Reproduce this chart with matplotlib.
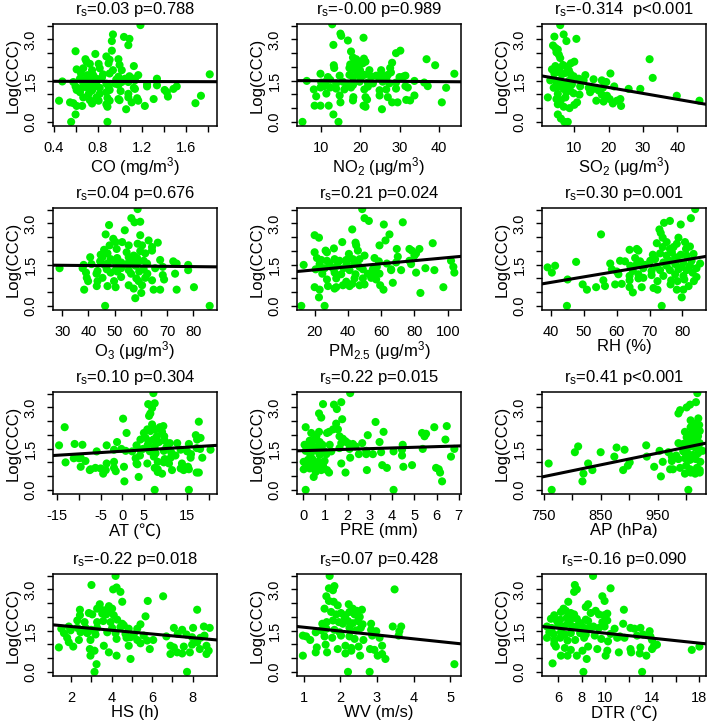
import matplotlib
matplotlib.use('Agg')
import matplotlib.pyplot as plt
import numpy as np

plt.rcParams['font.family'] = ['Liberation Sans', 'DejaVu Sans']
plt.rcParams['mathtext.fontset'] = 'custom'
plt.rcParams['mathtext.rm'] = 'Liberation Sans'
plt.rcParams['mathtext.it'] = 'Liberation Sans:italic'
plt.rcParams['mathtext.bf'] = 'Liberation Sans:bold'
plt.rcParams['mathtext.default'] = 'regular'

# ---------------- data ----------------
co_x = [1.19,0.94,1.04,1.09,0.93,1.08,0.60,0.93,0.78,0.88,0.99,0.69,0.70,0.91,0.73,0.81,0.90,1.00,1.13,0.61,0.67,0.75,0.82,0.94,1.02,
        0.65,0.71,0.76,0.85,0.91,0.99,1.09,1.17,1.82,
        0.64,0.69,0.73,0.79,0.84,0.97,1.05,1.13,1.34,
        0.48,0.58,0.67,0.73,0.79,0.88,0.96,1.02,1.08,1.14,
        0.60,0.66,0.71,0.78,0.82,0.90,0.99,1.13,1.25,1.34,
        0.61,0.75,0.91,1.01,1.14,1.41,1.52,1.49,
        0.64,0.72,0.82,0.88,1.08,1.25,1.43,
        0.67,0.79,0.89,0.99,1.08,1.16,1.74,1.44,
        0.45,0.55,0.73,0.81,0.91,1.00,1.11,1.31,1.69,
        0.58,0.66,0.75,0.88,1.17,
        0.89,1.06,1.23,0.61,
        0.60,0.56,0.89]
co_y = [3.52,3.18,3.09,3.02,2.94,2.79,2.57,2.59,2.47,2.38,2.28,2.28,2.19,2.26,2.11,2.11,2.13,2.07,2.03,1.91,1.95,1.88,1.95,1.88,1.88,
        1.76,1.70,1.70,1.73,1.76,1.64,1.66,1.70,1.73,
        1.57,1.54,1.61,1.57,1.61,1.54,1.57,1.57,1.57,
        1.47,1.45,1.41,1.39,1.45,1.39,1.39,1.45,1.45,1.51,
        1.29,1.24,1.24,1.29,1.24,1.29,1.35,1.24,1.29,1.33,
        1.16,1.14,1.16,1.12,1.20,1.16,1.29,1.20,
        1.08,1.02,1.02,1.08,1.02,1.36,1.08,
        0.89,0.89,0.87,0.83,0.89,0.86,0.95,0.92,
        0.77,0.71,0.79,0.77,0.77,0.79,0.71,0.83,0.68,
        0.68,0.58,0.67,0.64,0.77,
        0.55,0.46,0.58,0.58,
        0.27,0.0,0.0]

no2_x = [12.8,14.9,15.1,20.8,13.1,16.8,30.2,29.1,17.6,36.9,39.1,
         18.1,18.9,19.3,18.5,20.9,21.3,20.6,28.1,13.2,13.3,17.4,17.2,18.5,19.1,19.9,22.3,
         25.3,25.3,25.7,27.6,27.8,27.0,9.8,11.7,14.7,17.2,18.1,19.3,20.2,21.0,22.7,
         24.0,24.9,26.6,30.0,31.0,31.5,44.0,6.3,10.0,11.1,12.3,13.8,15.5,16.4,18.1,
         19.8,21.9,23.2,25.7,27.4,29.1,33.8,36.3,37.2,31.5,32.1,8.1,9.8,10.8,12.3,
         13.8,15.9,17.6,21.0,21.9,24.9,26.6,29.1,41.9,8.7,11.3,14.7,18.2,21.3,
         24.9,27.0,33.8,32.7,31.7,18.1,21.7,8.3,9.8,11.9,14.9,20.8,21.3,28.1,29.5,
         40.8,25.5,13.1,5.2,14.4]
no2_y = [3.55,3.21,3.13,3.06,2.80,2.96,2.59,2.50,2.56,2.28,2.06,
         2.34,2.28,2.21,2.18,2.30,2.19,2.13,2.15,2.06,1.96,2.09,1.96,1.90,2.03,1.88,1.88,
         1.88,1.75,1.65,1.96,1.80,1.71,1.75,1.63,1.68,1.71,1.63,1.71,1.63,1.71,1.65,
         1.68,1.59,1.59,1.63,1.65,1.68,1.75,1.49,1.43,1.46,1.53,1.40,1.46,1.38,1.34,
         1.46,1.43,1.40,1.46,1.40,1.43,1.49,1.43,1.30,1.30,1.25,1.18,1.25,1.30,1.25,
         1.21,1.18,1.25,1.18,1.28,1.15,1.18,1.21,1.24,0.93,1.03,0.96,0.90,0.90,
         0.96,0.90,0.96,0.78,0.80,0.78,0.81,0.59,0.59,0.59,0.71,0.59,0.55,0.71,0.71,
         0.71,0.46,0.27,0.0,0.0]

so2_x = [5.9,6.9,7.7,10.6,4.2,3.8,4.5,5.2,4.8,5.5,5.9,31.9,10.0,9.0,
         3.5,4.5,5.7,6.7,7.9,8.4,4.2,5.2,6.4,7.4,8.8,9.8,20.5,
         13.2,15.6,18.0,19.3,32.8,3.0,4.8,5.9,7.1,8.4,9.3,11.3,12.7,21.6,
         4.0,5.5,6.9,8.1,8.8,11.7,14.2,15.6,17.1,18.3,25.8,29.2,
         5.2,7.7,9.8,11.5,14.6,18.0,19.5,39.8,2.3,4.8,6.1,7.4,
         16.4,18.5,20.3,22.4,23.4,46.4,5.2,6.9,8.6,10.0,10.8,21.2,23.6,
         5.2,6.1,7.1,8.1]
so2_y = [3.52,3.18,2.94,3.02,3.10,2.78,2.69,2.63,2.53,2.44,2.32,2.28,2.19,2.13,
         1.91,2.03,1.95,2.07,2.01,1.88,1.76,1.82,1.73,1.78,1.76,1.66,1.76,
         1.70,1.55,1.51,1.45,1.60,1.51,1.45,1.51,1.41,1.49,1.36,1.57,1.51,1.29,
         1.24,1.29,1.20,1.29,1.14,1.29,1.24,1.20,1.14,1.24,1.20,1.20,
         1.02,1.08,1.04,0.99,1.08,0.99,0.95,0.95,0.89,0.83,0.79,0.89,
         0.77,0.74,0.83,0.77,0.83,0.77,0.64,0.55,0.50,0.62,0.71,0.67,0.58,
         0.27,0.12,0.0,0.0]

o3_x = [58.8,56.4,57.6,59.8,47.9,53.9,46.6,59.8,66.5,63.0,
        49.5,50.4,52.9,48.1,55.4,58.8,60.5,64.3,50.8,46.0,44.7,45.4,47.3,
        54.6,57.3,59.8,61.7,64.3,40.7,48.5,51.0,55.4,58.6,61.1,67.4,72.4,
        44.5,49.8,52.5,56.3,59.2,62.4,38.2,41.2,46.2,47.3,51.7,54.6,58.0,73.7,78.1,
        29.0,37.8,43.5,47.0,50.4,52.5,55.4,61.1,65.5,68.4,78.1,
        39.1,43.1,48.5,51.0,56.3,59.4,62.5,73.1,
        39.4,45.4,52.5,58.3,61.7,68.4,39.9,43.5,49.8,59.2,64.3,68.9,
        43.2,47.3,50.4,55.4,57.3,60.5,38.4,64.9,67.4,73.7,80.3,
        60.2,57.9,46.4,86.3]
o3_y = [3.52,3.19,3.04,3.06,2.94,2.75,2.60,2.57,2.30,2.38,
        2.44,2.32,2.32,2.20,2.20,2.26,2.20,2.14,2.07,2.04,1.86,1.77,1.91,
        1.95,1.83,1.99,1.91,2.01,1.77,1.70,1.74,1.77,1.74,1.64,1.67,1.62,
        1.62,1.64,1.58,1.62,1.62,1.54,1.49,1.52,1.49,1.54,1.46,1.52,1.46,1.54,1.49,
        1.37,1.37,1.27,1.33,1.30,1.37,1.30,1.33,1.37,1.42,1.30,
        1.21,1.17,1.21,1.25,1.17,1.25,1.17,1.17,
        1.02,1.02,1.05,1.00,1.02,1.12,0.90,0.90,0.90,0.90,0.93,0.96,
        0.72,0.72,0.68,0.75,0.63,0.75,0.59,0.59,0.59,0.59,0.68,
        0.47,0.28,0.0,0.0]

pm25_x = [48.6,50.0,52.6,73.0,61.6,42.6,65.0,20.0,22.6,62.6,36.6,44.6,45.0,91.0,59.0,
          26.6,31.6,27.4,20.0,40.6,46.0,50.0,69.4,77.0,78.4,83.0,81.0,80.0,
          21.4,24.0,27.4,32.0,35.0,39.0,43.0,47.0,56.0,70.0,
          23.0,29.0,33.6,39.4,44.0,47.0,58.6,63.4,69.0,77.0,78.0,102.0,
          13.4,20.6,26.0,31.0,37.4,41.0,49.0,55.0,57.4,66.0,103.4,104.0,
          24.6,32.0,36.0,44.6,52.0,56.0,59.0,66.0,72.0,81.0,86.6,92.0,
          27.4,33.0,44.0,49.0,54.0,57.0,67.0,
          39.0,42.6,28.0,33.0,37.0,41.0,47.0,50.0,59.4,97.4,
          20.0,23.0,32.0,61.4,83.6,22.6,12.0,26.0]
pm25_y = [3.52,3.19,3.09,3.04,2.96,2.78,2.60,2.57,2.48,2.38,2.32,2.30,2.20,2.28,2.20,
          2.01,2.09,1.95,1.95,1.89,2.01,1.83,2.07,2.07,2.01,2.07,1.91,1.83,
          1.74,1.67,1.64,1.70,1.64,1.67,1.70,1.70,1.74,1.79,
          1.52,1.54,1.46,1.54,1.52,1.42,1.62,1.54,1.58,1.64,1.52,1.64,
          1.49,1.33,1.37,1.37,1.37,1.30,1.33,1.33,1.42,1.33,1.42,1.21,
          1.17,1.21,1.15,1.15,1.17,1.21,1.17,1.30,1.30,1.21,1.37,1.30,
          0.96,1.00,1.00,1.00,1.02,0.96,0.84,
          0.88,0.80,0.72,0.68,0.75,0.72,0.75,0.78,0.75,0.68,
          0.68,0.59,0.63,0.59,0.47,0.31,0.0,0.0]

rh_x = [83.9,82.6,74.4,76.2,79.5,73.0,73.4,55.2,74.0,72.2,75.2,
        78.8,78.3,80.8,82.3,81.1,63.9,66.1,66.6,74.0,76.2,77.3,
        71.0,73.2,75.2,76.8,77.8,79.5,81.3,83.4,
        61.0,62.5,65.6,67.1,70.2,71.7,74.2,76.0,78.3,80.3,82.8,85.4,
        38.9,41.2,47.6,58.0,64.1,66.1,68.6,72.2,75.2,77.8,79.8,82.3,84.3,
        40.2,58.5,60.0,64.9,68.1,70.6,73.2,76.2,78.8,81.3,83.1,
        60.5,63.9,66.6,68.1,70.6,74.2,77.8,80.3,84.3,
        45.0,55.9,63.9,66.6,72.4,76.6,78.5,80.6,83.5,
        49.6,50.9,53.7,56.4,59.5,61.5,63.9,67.6,71.2,72.4,76.4,78.3,80.3,81.9,
        64.9,79.8,44.8,73.7]
rh_y = [3.52,3.19,3.02,3.09,2.96,2.78,2.65,2.60,2.48,2.28,2.32,
        2.48,2.26,2.32,2.16,2.07,2.04,2.07,2.01,2.14,2.07,2.14,
        1.86,1.91,1.83,1.95,1.77,1.86,1.83,1.89,
        1.64,1.62,1.74,1.62,1.64,1.70,1.58,1.64,1.67,1.58,1.64,1.54,
        1.40,1.46,1.60,1.54,1.46,1.52,1.49,1.42,1.46,1.52,1.42,1.46,1.37,
        1.21,1.33,1.25,1.27,1.37,1.27,1.30,1.30,1.33,1.30,1.21,
        1.15,1.09,1.15,1.02,1.12,1.09,1.15,1.09,1.05,
        0.96,0.93,0.93,1.00,0.90,0.93,0.90,0.96,0.90,
        0.78,0.59,0.68,0.72,0.78,0.80,0.68,0.68,0.65,0.59,0.78,0.59,0.59,0.72,
        0.49,0.31,0.0,0.0]

at_x = [7.2,6.0,7.5,6.9,6.5,6.2,0.2,-13.3,6.9,8.7,9.5,17.7,1.0,
        5.8,5.0,6.5,7.7,9.2,9.7,8.0,17.0,17.3,18.1,
        -1.2,4.2,5.4,6.2,7.2,8.5,9.8,11.0,12.7,15.4,
        -14.6,-11.0,-9.2,-3.6,-0.2,3.3,4.8,5.9,7.5,10.2,17.2,18.0,20.4,
        -5.9,-1.9,0.8,2.3,4.2,6.4,7.7,9.6,11.3,13.5,15.0,15.9,
        -11.2,-10.0,3.1,4.1,7.3,9.8,11.2,12.3,15.8,18.5,-9.6,
        -13.1,-8.5,-3.6,-1.9,3.3,5.8,8.2,9.6,10.8,13.8,
        -9.6,-7.3,-6.2,-5.0,-3.8,-1.9,0.4,3.5,7.5,8.2,11.5,13.5,15.2,15.4,
        -7.5,-4.4,-1.5,8.2,9.2,14.2,17.2,17.7,
        3.8,0.5,7.5,15.4]
at_y = [3.52,3.12,3.15,2.98,2.78,2.69,2.59,2.28,2.38,2.28,2.32,2.48,2.07,
        2.20,2.07,2.14,2.20,2.11,1.95,1.95,1.99,1.83,1.89,
        1.74,1.83,1.89,1.77,1.83,1.74,1.79,1.70,1.70,1.67,
        1.62,1.67,1.64,1.62,1.49,1.62,1.49,1.64,1.58,1.54,1.52,1.49,1.46,
        1.40,1.46,1.42,1.40,1.46,1.40,1.33,1.42,1.37,1.46,1.40,1.30,
        1.15,1.15,1.15,1.25,1.21,1.12,1.17,1.25,1.17,1.17,1.17,
        1.00,1.05,0.96,1.02,0.96,0.96,1.02,1.00,0.96,0.96,
        0.84,0.75,0.80,0.78,0.72,0.80,0.84,0.93,0.80,0.75,0.72,0.78,0.84,0.75,
        0.72,0.59,0.68,0.65,0.59,0.72,0.63,0.63,
        0.47,0.31,0.0,0.0]

pre_x = [2.12,1.39,1.72,1.52,0.90,0.72,0.82,1.76,1.49,1.57,1.35,
         3.26,5.90,6.46,3.62,0.12,0.37,0.72,0.60,1.17,1.08,
         5.53,5.46,5.35,6.40,2.91,1.64,1.79,1.91,2.02,2.24,1.72,
         0.30,0.52,0.75,0.87,1.20,0.07,0.22,0.45,0.67,
         2.66,3.44,4.48,1.64,2.09,2.36,4.45,5.38,6.80,
         0.12,0.37,0.63,0.93,1.27,0.33,0.75,1.05,
         2.51,2.84,3.14,3.51,4.07,4.45,2.12,2.84,6.65,
         0.03,0.22,0.42,0.67,0.97,0.15,0.37,0.60,0.90,
         1.72,0.03,0.30,0.82,1.08,0.57,
         3.56,3.77,4.51,4.90,5.98,6.10,2.87,1.17,1.91,
         0.48,6.16,6.25,0.12,4.07]
pre_y = [3.52,3.10,3.19,2.94,3.12,2.78,2.63,2.57,2.41,2.20,2.20,
         2.47,2.28,2.32,2.11,2.28,2.07,2.11,1.95,2.11,2.07,
         2.04,1.95,2.07,1.83,1.99,1.95,1.86,1.77,1.70,1.67,1.70,
         1.79,1.83,1.74,1.64,1.64,1.64,1.54,1.58,1.58,
         1.70,1.74,1.64,1.52,1.49,1.58,1.46,1.49,1.49,
         1.42,1.37,1.42,1.42,1.40,1.27,1.27,1.30,
         1.30,1.30,1.30,1.37,1.40,1.25,1.17,1.42,1.21,
         1.02,1.09,1.12,1.02,1.05,0.90,0.96,0.80,0.88,
         0.96,0.75,0.78,0.72,0.72,0.65,
         0.90,0.80,0.84,0.90,0.80,0.75,0.72,0.63,0.63,
         0.47,0.63,0.31,0.0,0.0]

ap_x = [1019.8,1017.4,1007,1001,989.5,986.6,
        1021.5,1008,1014,1023,1008,1014,1021,1024,
        998,1004,1010,1016,1021,1001,1012,1019,
        986.6,995,1004,1010,1024,1007,1016,1023,1001,
        810.5,930,878,892,953.5,969,804.7,850,
        931,874,975,982.6,995,1004,1012,1021,1029,
        959,975,986.6,998,1007,1017,1025,
        828,901,897.7,944,977,989.5,1000,1007,1019,1024,
        758.7,835.5,889.5,819.8,972,998,1008,1016,1024,
        955.8,818,764,1004]
ap_y = [3.52,3.19,3.10,3.00,2.90,2.78,
        2.60,2.53,2.41,2.36,2.28,2.20,2.26,2.14,
        2.11,2.01,2.07,1.99,1.95,1.91,1.86,1.79,
        1.70,1.67,1.74,1.64,1.70,1.58,1.54,1.49,1.49,
        1.58,1.62,1.54,1.46,1.42,1.37,1.37,1.37,
        1.21,1.21,1.21,1.25,1.40,1.30,1.27,1.33,1.42,
        1.02,1.05,1.12,1.15,1.09,1.12,1.02,
        0.96,1.00,0.88,0.84,0.75,0.80,0.88,0.75,0.80,0.72,
        0.96,0.72,0.72,0.59,0.75,0.59,0.63,0.59,0.63,
        0.49,0.31,0.0,0.0]

hs_x = [4.19,3.00,4.07,4.24,4.43,6.54,4.52,5.78,3.41,3.86,3.28,2.43,8.22,
        3.61,3.82,4.02,3.73,3.53,4.10,2.87,3.04,5.67,2.43,
        2.30,2.66,3.28,3.58,3.94,4.27,4.52,4.60,5.42,
        1.88,1.51,2.30,2.71,2.99,3.28,4.02,4.43,4.84,5.26,
        7.07,7.48,8.02,8.55,8.84,
        1.64,1.97,2.46,2.79,3.20,3.78,4.19,4.68,5.09,5.58,
        6.70,7.26,7.69,7.97,8.38,8.58,
        1.80,2.38,2.95,4.24,4.73,4.93,5.26,5.75,6.05,
        1.88,2.10,3.61,4.84,5.42,5.88,6.90,7.07,7.56,7.97,8.22,8.68,
        1.39,2.92,3.15,3.86,4.24,2.95,6.90,7.23,7.48,7.86,8.35,8.79,8.68,
        4.93,3.25,3.15,7.72]
hs_y = [3.49,3.16,3.00,3.07,2.91,2.75,2.55,2.58,2.46,2.39,2.30,2.26,2.26,
        2.24,2.18,2.30,2.09,2.12,2.06,2.14,2.09,2.02,2.06,
        1.87,1.81,1.81,1.85,1.81,1.90,1.75,1.69,1.73,
        1.65,1.57,1.60,1.60,1.53,1.60,1.60,1.63,1.57,1.57,
        1.60,1.53,1.60,1.65,1.60,
        1.41,1.51,1.44,1.41,1.36,1.44,1.41,1.38,1.36,1.32,
        1.29,1.38,1.36,1.26,1.24,1.32,
        1.24,1.16,1.16,1.20,1.24,1.26,1.16,1.14,1.16,
        1.08,0.92,0.95,0.95,1.04,0.83,0.95,0.89,0.92,0.99,1.08,0.95,
        0.89,0.83,0.77,0.71,0.59,0.59,0.65,0.71,0.67,0.71,0.83,0.77,0.65,
        0.47,0.28,0.0,0.0]

wv_x = [1.71,1.69,1.84,1.80,3.48,1.62,1.69,1.82,1.93,2.23,2.34,2.45,2.59,
        1.57,1.75,1.89,2.02,2.14,2.25,2.12,2.39,2.53,
        1.51,1.63,1.80,1.96,2.07,2.21,2.34,2.48,2.61,2.84,
        3.43,3.66,3.61,3.59,
        1.33,1.48,1.62,1.84,1.98,2.25,2.43,2.56,2.84,2.98,
        0.98,1.07,1.18,1.57,1.78,2.02,2.25,2.39,2.63,2.87,3.07,
        1.36,1.60,1.93,2.14,2.30,2.50,2.81,2.93,3.14,
        1.33,1.64,2.14,2.30,2.54,3.02,3.14,3.23,0.98,
        5.11,2.21,2.80]
wv_y = [3.49,3.04,3.12,2.97,3.00,2.75,2.58,2.55,2.42,2.46,2.30,2.22,2.26,
        2.30,2.18,2.09,2.14,2.06,2.18,1.97,2.09,2.00,
        1.75,1.81,1.87,1.81,1.75,1.85,1.77,1.85,1.73,1.75,
        1.65,1.65,1.48,1.32,
        1.44,1.51,1.57,1.53,1.44,1.60,1.51,1.60,1.53,1.48,
        1.32,1.29,1.16,1.29,1.24,1.32,1.29,1.20,1.16,1.32,1.24,
        0.89,0.99,0.83,0.95,0.87,0.92,0.83,0.80,0.95,
        0.71,0.71,0.67,0.77,0.59,0.59,0.65,0.47,0.59,
        0.28,0.0,0.0]

dtr_x = [8.96,7.41,7.58,7.35,10.45,9.75,9.94,6.85,8.54,8.34,11.58,
         6.45,6.23,6.65,7.07,7.35,8.76,9.18,9.46,9.89,10.17,
         5.38,5.66,5.89,6.17,6.73,7.01,7.58,7.92,8.34,8.54,9.75,10.17,11.52,12.14,
         5.04,5.44,6.00,6.45,6.79,7.21,7.69,8.20,8.70,8.99,9.46,9.94,10.79,12.48,12.99,13.77,
         5.24,5.61,6.23,6.56,7.07,7.86,8.34,9.10,10.45,11.24,11.63,12.70,13.21,13.83,
         5.04,5.66,6.17,6.79,7.44,8.20,9.66,10.23,11.01,13.97,14.39,
         5.80,6.56,7.07,8.54,9.32,10.17,12.14,12.99,13.97,17.35,18.00,14.11,5.66,
         6.23,6.79,7.58,8.06,8.42,10.03,11.15,12.20,12.93,13.49,
         5.52,8.14,13.13]
dtr_y = [3.49,3.16,3.00,2.91,3.04,2.75,2.58,2.55,2.46,2.36,2.26,
         2.30,2.18,2.22,2.14,2.09,2.14,2.22,2.09,2.06,2.12,
         1.93,2.06,1.85,1.90,1.97,1.87,1.93,1.77,1.90,1.85,1.81,1.87,1.75,1.60,
         1.65,1.60,1.69,1.65,1.75,1.65,1.69,1.60,1.60,1.65,1.60,1.65,1.57,1.57,1.60,1.48,
         1.44,1.38,1.44,1.36,1.41,1.41,1.36,1.32,1.38,1.29,1.24,1.32,1.36,1.29,
         1.24,1.16,1.24,1.14,1.16,1.24,1.20,1.11,1.24,1.16,0.99,
         0.92,0.87,0.80,0.92,0.83,0.77,0.83,0.89,0.83,0.80,0.92,0.92,1.02,
         0.59,0.59,0.59,0.77,0.47,0.59,0.71,0.71,0.67,0.59,
         0.31,0.0,0.0]

# regression line coefficients (intercept, slope)
fit_intercepts = [1.48, 1.504, 1.683, 1.505, 1.198, 0.056, 1.406, 1.427, -2.72, 1.785, 1.766, 1.859]
fit_slopes = [-0.01, -0.001, -0.0216, -0.00096, 0.00558, 0.020, 0.00976, 0.0244, 0.00427, -0.0679, -0.141, -0.0452]

titles = [r'r$_{s}$=0.03 p=0.788', r'r$_{s}$=-0.00 p=0.989', r'r$_{s}$=-0.314  p<0.001',
          r'r$_{s}$=0.04 p=0.676', r'r$_{s}$=0.21 p=0.024', r'r$_{s}$=0.30 p=0.001',
          r'r$_{s}$=0.10 p=0.304', r'r$_{s}$=0.22 p=0.015', r'r$_{s}$=0.41 p<0.001',
          r'r$_{s}$=-0.22 p=0.018', r'r$_{s}$=0.07 p=0.428', r'r$_{s}$=-0.16 p=0.090']
xlabels = [r'CO (mg/m$^{3}$)', r'NO$_{2}$ (μg/m$^{3}$)', r'SO$_{2}$ (μg/m$^{3}$)',
           r'O$_{3}$ (μg/m$^{3}$)', r'PM$_{2.5}$ (μg/m$^{3}$)', 'RH (%)',
           'AT (℃)', 'PRE (mm)', 'AP (hPa)', 'HS (h)', 'WV (m/s)', 'DTR (℃)']
xlims = [(0.395, 1.886), (3.8, 45.7), (0.6, 48.3), (26.5, 89.1), (9.4, 108.0), (37.2, 87.2),
         (-16.0, 21.9), (-0.27, 7.1), (747, 1035), (1.10, 9.2), (0.82, 5.29), (4.62, 18.56)]
xtick_vals = [[0.4, 0.6, 0.8, 1.0, 1.2, 1.4, 1.6, 1.8], [10, 20, 30, 40], [10, 20, 30, 40],
              [30, 40, 50, 60, 70, 80], [20, 40, 60, 80, 100], [40, 50, 60, 70, 80],
              [-15, -10, -5, 0, 5, 10, 15, 20], [0, 1, 2, 3, 4, 5, 6, 7],
              [750, 800, 850, 900, 950, 1000], [2, 3, 4, 5, 6, 7, 8], [1, 2, 3, 4, 5],
              [6, 8, 10, 12, 14, 16, 18]]
xtick_labels = [['0.4', '', '0.8', '', '1.2', '', '1.6', ''], ['10', '20', '30', '40'], ['10', '20', '30', '40'],
                ['30', '40', '50', '60', '70', '80'], ['20', '40', '60', '80', '100'], ['40', '50', '60', '70', '80'],
                ['-15', '', '-5', '0', '5', '', '15', ''], ['0', '1', '2', '3', '4', '5', '6', '7'],
                ['750', '', '850', '', '950', ''], ['2', '', '4', '', '6', '', '8'], ['1', '2', '3', '4', '5'],
                ['6', '8', '10', '', '14', '', '18']]
ytick_vals = [0.0, 0.5, 1.0, 1.5, 2.0, 2.5, 3.0, 3.5]
ytick_labels = ['0.0', '', '', '1.5', '', '', '3.0', '']

xs_all = [co_x, no2_x, so2_x, o3_x, pm25_x, rh_x, at_x, pre_x, ap_x, hs_x, wv_x, dtr_x]
ys_all = [co_y, no2_y, so2_y, o3_y, pm25_y, rh_y, at_y, pre_y, ap_y, hs_y, wv_y, dtr_y]

# ---------------- figure ----------------
W, H = 708, 723
fig = plt.figure(figsize=(W / 100, H / 100), dpi=100)
col_left = [53, 297, 542]
row_top = [24, 208, 392, 574]
aw, ah = 164, 102

for i in range(12):
    r, c = divmod(i, 3)
    ax = fig.add_axes([col_left[c] / W, 1 - (row_top[r] + ah) / H, aw / W, ah / H])
    ax.scatter(xs_all[i], ys_all[i], s=34, color='#00ee00', edgecolors='none', zorder=2)
    ax.set_xlim(*xlims[i])
    ax.set_ylim(-0.15, 3.56)
    lx = np.array(ax.get_xlim())
    ax.plot(lx, fit_intercepts[i] + fit_slopes[i] * lx, color='black', lw=2.2, zorder=3)
    ax.set_xticks(xtick_vals[i])
    ax.set_xticklabels(xtick_labels[i])
    ax.set_yticks(ytick_vals)
    ax.set_yticklabels(ytick_labels, rotation=90, va='center')
    ax.tick_params(axis='both', direction='out', length=4, width=1, labelsize=10.5)
    ax.tick_params(axis='x', pad=7)
    ax.tick_params(axis='y', pad=7)
    for sp in ax.spines.values():
        sp.set_linewidth(1.1)
    ax.set_title(titles[i], fontsize=12, pad=7)
    if xlabels[i] in ('AT (℃)', 'DTR (℃)'):
        ax.set_xlabel(xlabels[i], fontsize=12, labelpad=0, family=['Liberation Sans', 'Noto Sans CJK SC'])
    else:
        ax.set_xlabel(xlabels[i], fontsize=12, labelpad=0)
    ax.set_ylabel('Log(CCC)', fontsize=12, labelpad=2)

fig.savefig('out.png', dpi=100)
